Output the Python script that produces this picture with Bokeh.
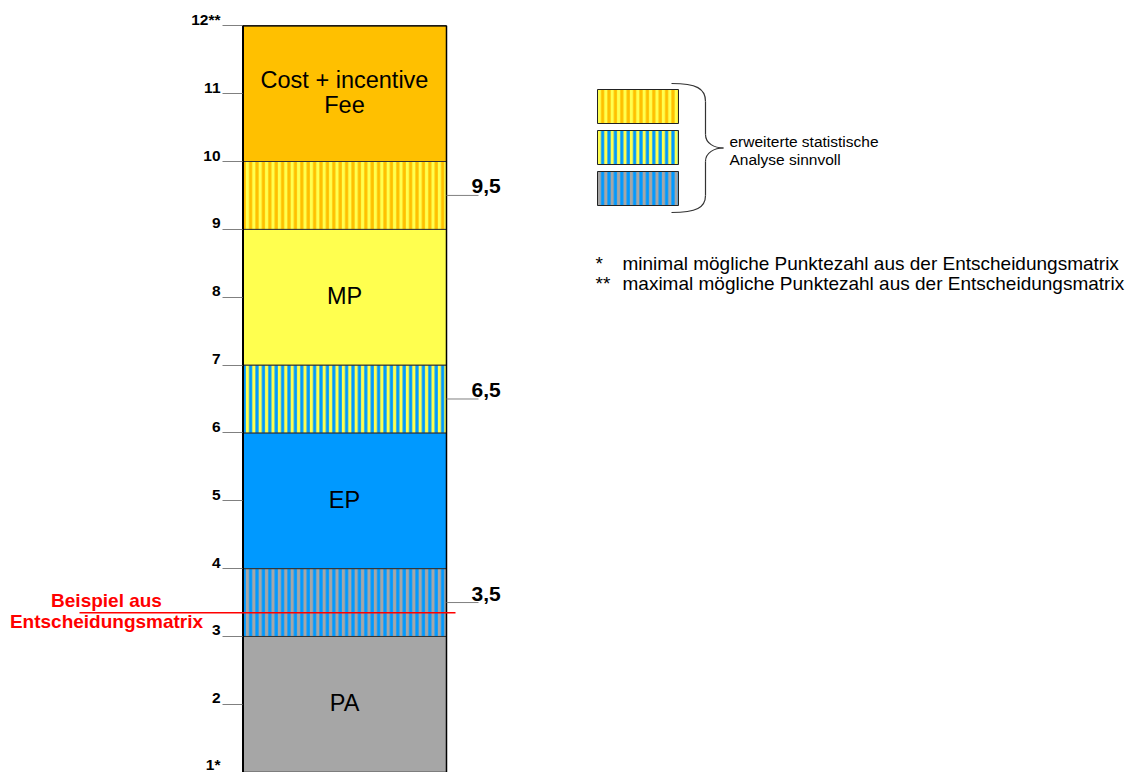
from bokeh.plotting import figure
from bokeh.models import Range1d, LinearAxis, FixedTicker, ColumnDataSource
from bokeh.core.properties import value
from bokeh.embed import file_html
from bokeh.resources import INLINE

# Score bands of the decision matrix (points 1 to 12)
band_names = ["PA", "PA/EP", "EP", "EP/MP", "MP", "MP/Cost", "Cost + incentive Fee"]
band_lower = [1, 3, 4, 6, 7, 9, 10]
band_upper = [3, 4, 6, 7, 9, 10, 12]
band_text = ["PA", "", "EP", "", "MP", "", "Cost + incentive\nFee"]

# Score axis
score_ticks = list(range(1, 13))
score_tick_labels = {1: "1*", 12: "12**"}

# Thresholds between the bands
threshold_values = [3.5, 6.5, 9.5]
threshold_labels = ["3,5", "6,5", "9,5"]

# Example score taken from the decision matrix
example_value = 3.35
example_label = ["Beispiel aus", "Entscheidungsmatrix"]

# Legend and footnotes
legend_note = ["erweiterte statistische", "Analyse sinnvoll"]
footnote_marks = ["*", "**"]
footnote_texts = ["minimal mögliche Punktezahl aus der Entscheidungsmatrix",
                  "maximal mögliche Punktezahl aus der Entscheidungsmatrix"]

# Colours
ORANGE = "#FFC000"
YELLOW = "#FFFF4F"
BLUE = "#0099FF"
GREY = "#A6A6A6"
band_fill = [GREY, BLUE, BLUE, BLUE, YELLOW, ORANGE, ORANGE]
band_hatch = ["blank", "vertical_line", "blank", "vertical_line", "blank", "vertical_line", "blank"]
band_hatch_color = [GREY, GREY, BLUE, YELLOW, YELLOW, YELLOW, ORANGE]

FONT = "Liberation Sans"
W, H = 1141, 772
COL_L, COL_R = 242, 446
STRIPE_SCALE, STRIPE_WEIGHT = 6.4, 3.2

p = figure(width=W, height=H, x_range=Range1d(0, W), y_range=Range1d(0.995, 12.373),
           output_backend="svg", toolbar_location=None,
           x_axis_location=None, y_axis_location=None,
           min_border=0, outline_line_color=None, background_fill_color="white")
p.extra_y_ranges = {"px": Range1d(H, 0)}
for r in list(p.center):
    r.visible = False

# Stacked column
src = ColumnDataSource(dict(name=band_names, bottom=band_lower, top=band_upper,
                            fill=band_fill, hatch=band_hatch, hcolor=band_hatch_color))
p.quad(left=COL_L, right=COL_R, bottom="bottom", top="top", source=src,
       fill_color="fill", hatch_pattern="hatch", hatch_color="hcolor",
       hatch_scale=STRIPE_SCALE, hatch_weight=STRIPE_WEIGHT,
       line_color="#333333", line_width=1)
p.segment(x0=[COL_L + 0.5, COL_R], y0=[0, 0], x1=[COL_L + 0.5, COL_R], y1=[12, 12],
          line_color="black", line_width=[2, 1.5])
p.segment(x0=COL_L, x1=COL_R, y0=12, y1=12, line_color="black", line_width=1.2)

# Band names centred inside the solid bands
mid = [(lo + hi) / 2 for lo, hi in zip(band_lower, band_upper)]
p.text(x=(COL_L + COL_R) / 2, y=mid, text=band_text, text_align="center",
       text_baseline="middle", y_offset=-1, text_font=value(FONT), text_font_size="23.5px",
       text_color="black", text_line_height=0.97)

# Score axis on the left edge of the column (ticks); labels sit on the tick lines
yaxis = LinearAxis(fixed_location=COL_L, ticker=FixedTicker(ticks=score_ticks),
                   axis_line_color=None, major_tick_in=0, major_tick_out=20,
                   major_tick_line_color="#808080", minor_tick_line_color=None,
                   major_label_text_font_size="0px", major_label_text_color=None)
p.add_layout(yaxis, "left")
tick_text = [score_tick_labels.get(t, str(t)) for t in score_ticks]
tick_offset = [-8 if t == 1 else -6 for t in score_ticks]
p.text(x=COL_L - 22, y=score_ticks, text=tick_text, text_align="right",
       text_baseline="middle", y_offset=tick_offset, text_font=value(FONT),
       text_font_style="bold", text_font_size="15.5px", text_color="black")

# Thresholds on the right edge
p.segment(x0=COL_R, x1=COL_R + 32, y0=threshold_values, y1=threshold_values,
          line_color="#808080", line_width=1)
p.text(x=COL_R + 25, y=threshold_values, text=threshold_labels, text_align="left",
       text_baseline="middle", y_offset=-9, text_font=value(FONT),
       text_font_style="bold", text_font_size="21px", text_color="black")

# Example score line
p.segment(x0=79, x1=455, y0=example_value, y1=example_value, line_color="#FF0000", line_width=1.5)
p.text(x=106, y=[example_value, example_value], text=example_label, text_align="center",
       text_baseline="middle", y_offset=[-12.5, 8.5], text_font=value(FONT),
       text_font_style="bold", text_font_size="19px", text_color="#FF0000")

# Legend swatches for the striped bands
sw_fill = [ORANGE, BLUE, BLUE]
sw_hatch = [YELLOW, YELLOW, GREY]
p.quad(left=597, right=678, top=[89, 130, 171], bottom=[123, 164, 205], y_range_name="px",
       fill_color=sw_fill, hatch_pattern="vertical_line", hatch_color=sw_hatch,
       hatch_scale=STRIPE_SCALE, hatch_weight=STRIPE_WEIGHT, line_color="#222222", line_width=1)

# Curly brace
bx, tip = 705, 723
p.bezier(x0=[671, bx, tip, bx], y0=[83, 134, 147.5, 195],
         x1=[bx, tip, bx, 671], y1=[101, 147.5, 161, 212],
         cx0=[696, bx, 714, bx], cy0=[83, 143, 147.5, 207],
         cx1=[bx, 714, bx, 696], cy1=[88, 147.5, 152, 212],
         y_range_name="px", line_color="#333333", line_width=1.2)
p.segment(x0=[bx, bx], x1=[bx, bx], y0=[101, 161], y1=[134, 195], y_range_name="px",
          line_color="#333333", line_width=1.2)
p.text(x=729, y=[140.5, 159], text=legend_note, y_range_name="px", text_baseline="middle",
       text_font=value(FONT), text_font_size="15.5px", text_color="black")

# Footnotes
p.text(x=595, y=[263, 283], text=footnote_marks, y_range_name="px", text_baseline="middle",
       text_font=value(FONT), text_font_size="19px", text_color="black")
p.text(x=622, y=[263, 283], text=footnote_texts, y_range_name="px", text_baseline="middle",
       text_font=value(FONT), text_font_size="19px", text_color="black")

open("out.html", "w").write(file_html(p, INLINE))
